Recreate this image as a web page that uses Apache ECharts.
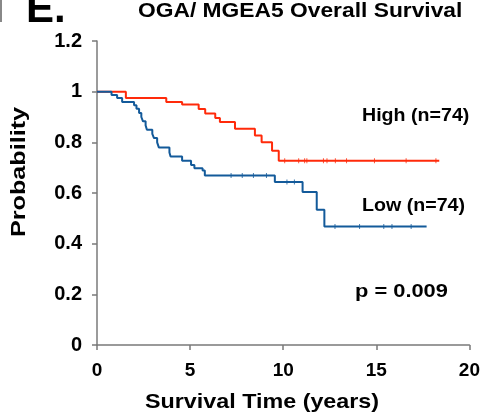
<!DOCTYPE html>
<html><head><meta charset="utf-8">
<script src="https://cdn.jsdelivr.net/npm/echarts@6/dist/echarts.min.js"></script>
<style>html,body{margin:0;padding:0;background:#fff}#c{width:483px;height:413px}</style>
</head><body><div id="c"></div>
<script>
// Kaplan-Meier step points [time (years), survival probability]
const highTimes = [0, 1.55, 3.72, 4.57, 5.46, 5.81, 6.35, 6.6, 7.41, 8.48, 8.84, 9.4, 9.76, 18.38];
const highProb  = [1, 0.975, 0.959, 0.949, 0.932, 0.914, 0.896, 0.880, 0.854, 0.827, 0.80, 0.767, 0.727, 0.727];
const lowTimes = [0, 0.78, 1.08, 1.35, 1.99, 2.12, 2.26, 2.38, 2.47, 2.61, 2.68, 2.97, 3.06, 3.23, 3.32, 3.89, 3.95, 4.57, 5.05, 5.23, 5.67, 5.79, 9.55, 11.04, 11.8, 12.21, 17.7];
const lowProb  = [1, 0.987, 0.975, 0.959, 0.946, 0.933, 0.916, 0.90, 0.883, 0.867, 0.85, 0.833, 0.817, 0.80, 0.78, 0.76, 0.744, 0.727, 0.711, 0.698, 0.689, 0.669, 0.643, 0.604, 0.534, 0.468, 0.468];
// censoring marks
const highCensor = [10.08, 10.83, 11.15, 11.27, 12.16, 12.35, 12.8, 13.4, 14.9, 16.6, 18.2];
const lowCensor  = [7.2, 7.8, 8.4, 9.1, 10.2, 10.6, 12.78, 14.1, 15.4, 15.84, 16.87];
const xTicks = [0, 5, 10, 15, 20];
const yTicks = [0, 0.2, 0.4, 0.6, 0.8, 1, 1.2];

function stepVal(times, probs, t){ let v = probs[0]; for(let i=0;i<times.length;i++){ if(times[i]<=t) v=probs[i]; } return v; }
const highData = highTimes.map((t,i)=>[t, highProb[i]]);
const lowData = lowTimes.map((t,i)=>[t, lowProb[i]]);
const highCens = highCensor.map(t=>[t, stepVal(highTimes, highProb, t)]);
const lowCens = lowCensor.map(t=>[t, stepVal(lowTimes, lowProb, t)]);

const RED = '#ff2a0a', BLUE = '#135a9a', AX = '#7a7a7a';
const FONT = 'Liberation Sans';
const chart = echarts.init(document.getElementById('c'), null, {renderer:'canvas'});
chart.setOption({
  animation:false,
  backgroundColor:'#fff',
  grid:{left:97, right:11, top:41, bottom:68},
  xAxis:{type:'value', min:0, max:20, interval:5,
    axisLine:{lineStyle:{color:AX, width:1.5}}, axisTick:{show:true, length:5, lineStyle:{color:AX, width:1.5}},
    splitLine:{show:false},
    axisLabel:{color:'#000', fontFamily:FONT, fontWeight:'bold', fontSize:19, margin:16,
      formatter:v=> xTicks.includes(v) ? String(v) : ''}},
  yAxis:{type:'value', min:0, max:1.2, interval:0.2,
    axisLine:{show:true, lineStyle:{color:AX, width:1.5}}, axisTick:{show:true, length:5, lineStyle:{color:AX, width:1.5}},
    splitLine:{show:false},
    axisLabel:{color:'#000', fontFamily:'"Liberation Sans Narrow", "Liberation Sans"', fontWeight:'bold', fontSize:20, margin:15,
      formatter:v=>{ const r=Math.round(v*10)/10; return yTicks.includes(r)? String(r):''; }}},
  series:[
    {type:'line', step:'end', data:highData, symbol:'none', lineStyle:{color:RED, width:2}},
    {type:'line', step:'end', data:lowData, symbol:'none', lineStyle:{color:BLUE, width:2}},
    {type:'scatter', data:highCens, symbol:'rect', symbolSize:[1,5], itemStyle:{color:RED}},
    {type:'scatter', data:lowCens, symbol:'rect', symbolSize:[1,5], itemStyle:{color:BLUE}}
  ],
  graphic:[
    {type:'rect', shape:{x:0,y:0,width:2,height:22}, style:{fill:'#888'}},
    {type:'text', x:26, y:10, style:{text:'E.', font:'bold 42px "Liberation Sans"', fill:'#000', verticalAlign:'middle'}},
    {type:'text', x:138, y:11.5, scaleX:1.14, style:{text:'OGA/ MGEA5 Overall Survival', font:'bold 20px "Liberation Sans"', fill:'#000', verticalAlign:'middle'}},
    {type:'text', x:362, y:116.5, scaleX:1.09, style:{text:'High (n=74)', font:'bold 18px "Liberation Sans"', fill:'#000', verticalAlign:'middle'}},
    {type:'text', x:362, y:206, scaleX:1.09, style:{text:'Low (n=74)', font:'bold 18px "Liberation Sans"', fill:'#000', verticalAlign:'middle'}},
    {type:'text', x:355, y:291.5, scaleX:1.15, style:{text:'p = 0.009', font:'bold 19px "Liberation Sans"', fill:'#000', verticalAlign:'middle'}},
    {type:'text', x:145, y:402, scaleX:1.11, style:{text:'Survival Time (years)', font:'bold 21px "Liberation Sans"', fill:'#000', verticalAlign:'middle'}},
    {type:'text', x:19.5, y:172, rotation:Math.PI/2, scaleX:1.2, style:{text:'Probability', font:'bold 21px "Liberation Sans"', fill:'#000', align:'center', verticalAlign:'middle'}}
  ]
});
</script></body></html>
